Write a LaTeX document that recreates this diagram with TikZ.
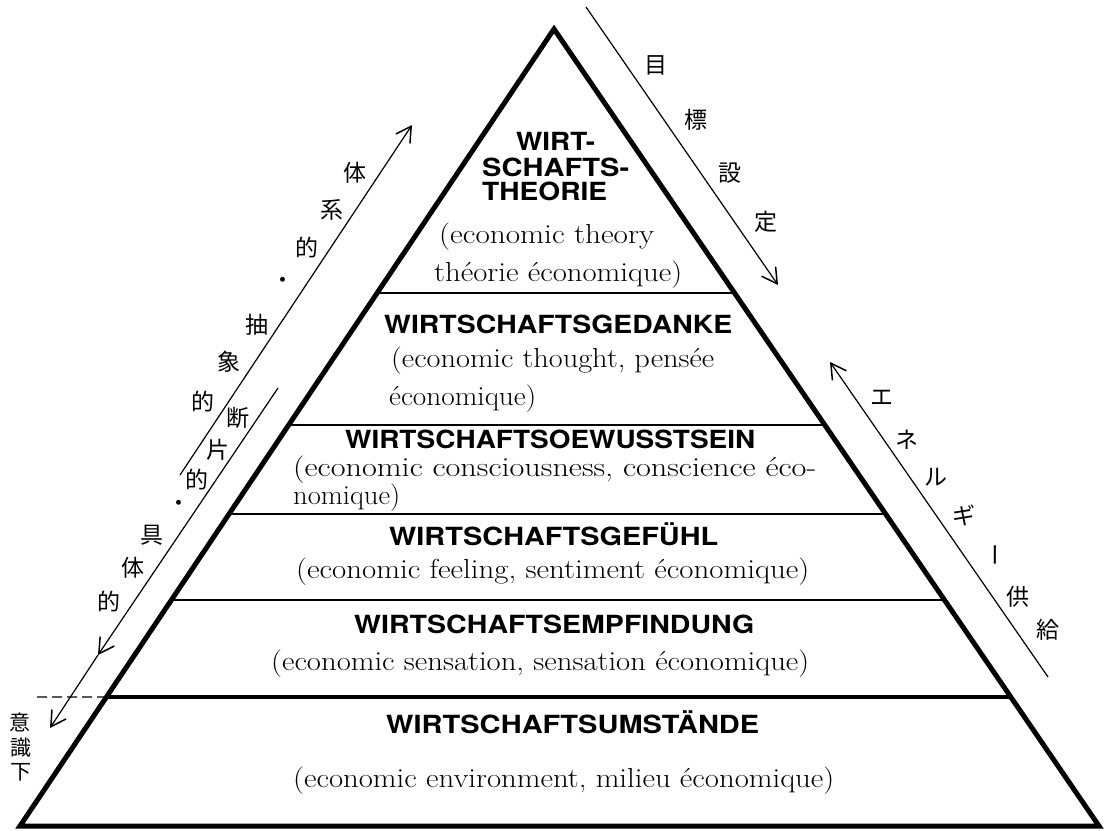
\documentclass[tikz,border=0pt]{standalone}
\usepackage{fontspec}
\usepackage{graphicx}
\newfontfamily\jp{Noto Sans CJK JP}
\newfontfamily\hv{TeX Gyre Heros}
\usetikzlibrary{arrows.meta,calc}
\newcommand{\fitw}[2]{\resizebox{#1pt}{\height}{#2}}
\tikzset{
 hd/.style={anchor=base west, inner sep=0pt, font=\hv\bfseries\fontsize{25}{30}\selectfont},
 sr/.style={anchor=base west, inner sep=0pt, font=\fontsize{27.5}{30}\selectfont},
 jl/.style={inner sep=0pt, font=\jp\fontsize{23}{23}\selectfont},
 js/.style={inner sep=0pt, font=\jp\fontsize{21}{21}\selectfont},
 arr/.style={line width=1.2pt, -{Straight Barb[length=15pt,width=17pt,line width=1.5pt]}},
 lyr/.style={line width=1.5pt},
 outline/.style={line width=5pt, line join=miter}
}
\begin{document}
\begin{tikzpicture}[x=1pt,y=-1pt]
\useasboundingbox (0,0) rectangle (1108,830);
% pyramid
\coordinate (A) at (554,29);
\coordinate (L) at (20,826);
\coordinate (R) at (1099,826);
\draw[outline] (A) -- (L) -- (R) -- cycle;
% layer lines
\coordinate (l1) at ($(A)!0.3312!(L)$); \coordinate (r1) at ($(A)!0.3312!(R)$);
\coordinate (l2) at ($(A)!0.4969!(L)$); \coordinate (r2) at ($(A)!0.4969!(R)$);
\coordinate (l3) at ($(A)!0.6085!(L)$); \coordinate (r3) at ($(A)!0.6085!(R)$);
\coordinate (l4) at ($(A)!0.7164!(L)$); \coordinate (r4) at ($(A)!0.7164!(R)$);
\coordinate (l5) at ($(A)!0.8381!(L)$); \coordinate (r5) at ($(A)!0.8381!(R)$);
\draw[lyr] (l1) -- (r1);
\draw[lyr] (l2) -- (r2);
\draw[lyr] (l3) -- (r3);
\draw[lyr] (l4) -- (r4);
\draw[line width=4.5pt] (l5) -- (r5);
\coordinate (dl) at (37,697);
\draw[line width=1.2pt, dash pattern=on 10pt off 5pt] (dl) -- (l5);
% layer texts
\node[hd] (t1a) at (516,150) {\fitw{79}{WIRT-}};
\node[hd] (t1b) at (482,176) {\fitw{147}{SCHAFTS-}};
\node[hd] (t1c) at (482,200) {\fitw{125}{THEORIE}};
\node[sr] (t1d) at (439,243) {\fitw{215}{(economic theory}};
\node[sr] (t1e) at (434,281) {\fitw{248}{théorie économique)}};
\node[hd] (t2a) at (384,333) {\fitw{348}{WIRTSCHAFTSGEDANKE}};
\node[sr] (t2b) at (391,367) {\fitw{323}{(economic thought, pensée}};
\node[sr] (t2c) at (389,405) {\fitw{147}{économique)}};
\node[hd] (t3a) at (345,448) {\fitw{410}{WIRTSCHAFTSOEWUSSTSEIN}};
\node[sr] (t3b) at (293,476) {\fitw{523}{(economic consciousness, conscience éco-}};
\node[sr] (t3c) at (293,504) {\fitw{107}{nomique)}};
\node[hd] (t4a) at (389,545) {\fitw{329}{WIRTSCHAFTSGEFÜHL}};
\node[sr] (t4b) at (296,578) {\fitw{513}{(economic feeling, sentiment économique)}};
\node[hd] (t5a) at (354,633) {\fitw{400}{WIRTSCHAFTSEMPFINDUNG}};
\node[sr] (t5b) at (271,670) {\fitw{538}{(economic sensation, sensation économique)}};
\node[hd] (t6a) at (386,733) {\fitw{373}{WIRTSCHAFTSUMSTÄNDE}};
\node[sr] (t6b) at (293,787) {\fitw{541}{(economic environment, milieu économique)}};
% arrows
\coordinate (a1s) at (180,475); \coordinate (a1e) at (412,125);
\draw[arr] (a1s) -- (a1e);
\coordinate (a2s) at (278,388); \coordinate (a2m) at (98,655); \coordinate (a2e) at (50,728);
\draw[arr] (a2s) -- (a2m);
\draw[arr] (a2m) -- (a2e);
\coordinate (a3s) at (586,7); \coordinate (a3e) at (778,285);
\draw[arr] (a3s) -- (a3e);
\coordinate (a4s) at (1048,677); \coordinate (a4e) at (830,362);
\draw[arr] (a4s) -- (a4e);
% japanese labels, left arrow 1
\node[jl] (j1) at (355,173) {体};
\node[jl] (j2) at (332,210) {系};
\node[jl] (j3) at (307,248) {的};
\node[jl] (j4) at (283,283) {・};
\node[jl] (j5) at (257,325) {抽};
\node[jl] (j6) at (229,362) {象};
\node[jl] (j7) at (203,402) {的};
% left arrow 2
\node[jl] (k1) at (238,418) {断};
\node[jl] (k2) at (218,450) {片};
\node[jl] (k3) at (197,480) {的};
\node[jl] (k4) at (179,506) {・};
\node[jl] (k5) at (152,535) {具};
\node[jl] (k6) at (133,568) {体};
\node[jl] (k7) at (109,602) {的};
% unconscious
\node[js] (u1) at (20,722) {意};
\node[js] (u2) at (21,748) {識};
\node[js] (u3) at (21,772) {下};
% goal setting
\node[jl] (g1) at (656,65) {目};
\node[jl] (g2) at (696,120) {標};
\node[jl] (g3) at (730,173) {設};
\node[jl] (g4) at (766,222) {定};
% energy supply
\node[jl] (e1) at (882,398) {エ};
\node[jl] (e2) at (907,440) {ネ};
\node[jl] (e3) at (936,477) {ル};
\node[jl] (e4) at (964,515) {ギ};
\node[jl, rotate=-90] (e5) at (991,555) {ー};
\node[jl] (e6) at (1018,597) {供};
\node[jl] (e7) at (1048,630) {給};
\end{tikzpicture}
\end{document}
